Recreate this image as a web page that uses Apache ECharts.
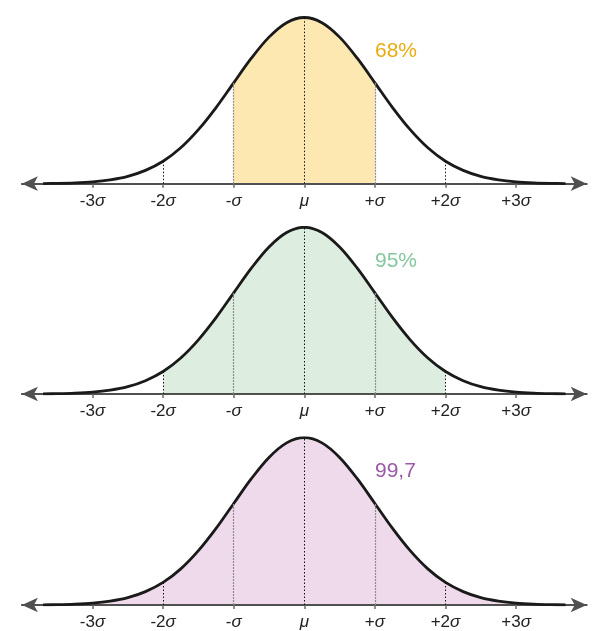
<!DOCTYPE html>
<html>
<head>
<meta charset="utf-8">
<script src="https://cdn.jsdelivr.net/npm/echarts@6/dist/echarts.min.js"></script>
<style>
  html, body { margin: 0; padding: 0; background: #fff; }
  #chart { width: 598px; height: 631px; }
</style>
</head>
<body>
<div id="chart"></div>
<script>
// Positions along the axis, in units of sigma from the mean
const sigmaPos = [-3.7, -3.5, -3.25, -3, -2.75, -2.5, -2.25, -2, -1.75, -1.5, -1.25, -1,
  -0.75, -0.5, -0.25, 0, 0.25, 0.5, 0.75, 1, 1.25, 1.5, 1.75, 2, 2.25, 2.5, 2.75, 3, 3.25, 3.5, 3.7];
// Relative height of the bell curve (peak = 1) at each position
const density = [0.001, 0.002, 0.005, 0.011, 0.023, 0.044, 0.080, 0.135, 0.216, 0.325, 0.458, 0.607,
  0.755, 0.882, 0.969, 1.000, 0.969, 0.882, 0.755, 0.607, 0.458, 0.325, 0.216, 0.135, 0.080, 0.044,
  0.023, 0.011, 0.005, 0.002, 0.001];

// Axis ticks and their labels
const tickValues = [-3, -2, -1, 0, 1, 2, 3];
const tickLabels = ['-3σ', '-2σ', '-σ', 'μ', '+σ', '+2σ', '+3σ'];

// One panel per interval: shaded range (in sigma), caption, colours
const panelRanges = [[-1, 1], [-2, 2], [-3.7, 3.7]];
const panelCaptions = ['68%', '95%', '99,7'];
const panelFill = ['#fee8b1', '#ddeee0', '#eedaeb'];
const panelTextColor = ['#e9ac10', '#85c79e', '#9a5aa8'];

// Layout of the three panels (pixels)
const panelTop = [17.5, 227.3, 437.7];
const panelHeight = [166.2, 166.7, 167.3];
const gridLeft = 21.9, gridRight = 11.3;
const FONT = '"Liberation Sans", Arial, Helvetica, sans-serif';
const SMOOTH = 0.33;

const curveData = sigmaPos.map((x, i) => [x, density[i]]);
const guideValues = [-2, -1, 0, 1, 2];

const grids = [], xAxes = [], yAxes = [], series = [], graphics = [];

panelRanges.forEach((range, p) => {
  grids.push({ left: gridLeft, right: gridRight, top: panelTop[p], height: panelHeight[p] });

  // Axis line with arrow heads, ticks and sigma labels
  xAxes.push({
    type: 'value', gridIndex: p, position: 'bottom', min: -4, max: 4, z: 2,
    splitLine: { show: false },
    axisLine: { show: true, symbol: ['arrow', 'arrow'], symbolSize: [11, 16],
      lineStyle: { color: '#505050', width: 2 } },
    axisTick: { show: true, customValues: tickValues, length: 4, lineStyle: { color: '#6b6b6b', width: 1.5 } },
    axisLabel: {
      show: true, customValues: tickValues, margin: 9,
      color: '#222', fontFamily: FONT, fontSize: 17,
      formatter: (v) => {
        const idx = tickValues.indexOf(Math.round(v));
        const s = idx >= 0 ? tickLabels[idx] : '';
        const g = s.slice(-1);
        const pre = s.slice(0, -1);
        return (pre ? '{n|' + pre + '}' : '') + '{g|' + g + '}';
      },
      rich: {
        n: { fontFamily: FONT, fontSize: 17, color: '#222' },
        g: { fontFamily: FONT, fontSize: 17, fontStyle: 'italic', color: '#222' }
      }
    }
  });
  yAxes.push({ type: 'value', gridIndex: p, min: 0, max: 1, show: false });

  // Shaded area under the curve
  series.push({
    type: 'line', xAxisIndex: p, yAxisIndex: p, z: 1,
    smooth: SMOOTH, showSymbol: false, silent: true,
    lineStyle: { width: 0 },
    areaStyle: { color: panelFill[p], opacity: 1 },
    data: curveData.filter(d => d[0] >= range[0] - 1e-9 && d[0] <= range[1] + 1e-9)
  });
  // Bell curve with dotted guides at mu, ±sigma, ±2sigma
  series.push({
    type: 'line', xAxisIndex: p, yAxisIndex: p, z: 3,
    smooth: SMOOTH, showSymbol: false, silent: true,
    lineStyle: { color: '#1a1a1a', width: 2.8 },
    data: curveData,
    markLine: {
      silent: true, symbol: ['none', 'none'], label: { show: false },
      data: guideValues.map(v => {
        const y = density[sigmaPos.indexOf(v)];
        const grey = Math.abs(v) === 1;
        return [
          { coord: [v, 0], lineStyle: { color: grey ? '#8c8c8c' : '#111', type: grey ? [2, 1] : [1.5, 2], width: grey ? 1.2 : 1 } },
          { coord: [v, y] }
        ];
      })
    }
  });

  graphics.push({
    type: 'text', left: 375, top: panelTop[p] + 23,
    style: { text: panelCaptions[p], fill: panelTextColor[p], font: '21px ' + FONT }
  });
});

const chart = echarts.init(document.getElementById('chart'), null, { renderer: 'canvas' });
chart.setOption({
  animation: false,
  backgroundColor: '#ffffff',
  grid: grids,
  xAxis: xAxes,
  yAxis: yAxes,
  series: series,
  graphic: graphics
});
</script>
</body>
</html>
